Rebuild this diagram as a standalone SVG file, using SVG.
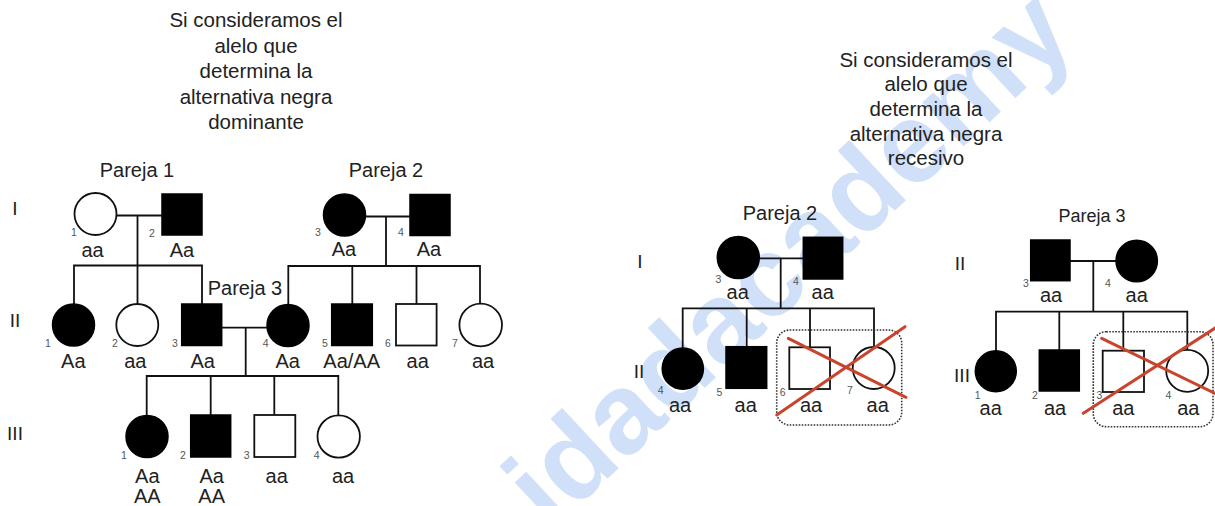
<svg xmlns="http://www.w3.org/2000/svg" width="1215" height="506" viewBox="0 0 1215 506">
<style>
.ln{stroke:#111;stroke-width:1.8;fill:none}
.aff{fill:#000;stroke:#000;stroke-width:1.5}
.opn{fill:#fff;stroke:#111;stroke-width:1.8}
.t{font-family:"Liberation Sans",Arial,Helvetica,sans-serif;fill:#222;text-anchor:middle}
.g{font-size:20px}
.h{font-size:20.5px}
.p{font-size:20px}
.p3{font-size:18px}
.n{font-size:10.5px;fill:#555}
.r{font-size:19px}
.box{fill:none;stroke:#333;stroke-width:1.6;stroke-dasharray:1.6 1.4}
.x{stroke:#c9442d;stroke-width:3;stroke-linecap:round}
.wm{font-family:"Liberation Sans",Arial,sans-serif;font-weight:bold;font-size:114px;fill:#cfe0f8}
</style>
<rect width="1215" height="506" fill="#fff"/>
<text class="wm" transform="translate(550,532) rotate(-43)">idadacademy</text>

<g id="header-left" class="t h">
<text x="256" y="27">Si consideramos el</text>
<text x="256" y="52.5">alelo que</text>
<text x="256" y="78">determina la</text>
<text x="256" y="103.5">alternativa negra</text>
<text x="256" y="129">dominante</text>
</g>
<g id="header-right" class="t h">
<text x="926" y="66.5">Si consideramos el</text>
<text x="926" y="91">alelo que</text>
<text x="926" y="116">determina la</text>
<text x="926" y="140.5">alternativa negra</text>
<text x="926" y="165">recesivo</text>
</g>

<g id="labels" class="t">
<text class="p" x="137" y="177">Pareja 1</text>
<text class="p" x="386" y="177">Pareja 2</text>
<text class="p" x="245" y="295">Pareja 3</text>
<text class="p" x="780" y="220">Pareja 2</text>
<text class="p3" x="1092" y="221.5">Pareja 3</text>
<text class="r" x="15" y="215">I</text>
<text class="r" x="15" y="327">II</text>
<text class="r" x="15" y="440">III</text>
<text class="r" x="640" y="268">I</text>
<text class="r" x="639" y="378">II</text>
<text class="r" x="960" y="270">II</text>
<text class="r" x="962" y="382">III</text>
</g>

<g id="connectors">
<path class="ln" d="M116.5 215.5H162M137.5 215.5V265.5M74 304V265.5H202V304M137.5 265.5V304"/>
<path class="ln" d="M365.5 216.5H410M386 216.5V266M288.3 304V266H480V304M352.3 266V304M416.5 266V304"/>
<path class="ln" d="M221.7 327.7H267M245.7 327.7V376M146.7 416V376H338.3V416M210.7 376V415M274.3 376V415"/>
<path class="ln" d="M759.3 258.3H803M780.7 258.3V308.3M682.7 348V308.3H874V347.3M746.7 308.3V346.7M810 308.3V347.3"/>
<path class="ln" d="M1070 261H1116M1093.3 261V311.7M996 351V311.7H1187.3V350M1059.3 311.7V350M1123.3 311.7V350.7"/>
</g>

<g id="L-I-1"><circle class="opn" cx="95.5" cy="214" r="21"/><text class="t n" x="74" y="236">1</text><text class="t g" x="92.5" y="257">aa</text></g>
<g id="L-I-2"><rect class="aff" x="162" y="194" width="40" height="41"/><text class="t n" x="152" y="237">2</text><text class="t g" x="182" y="257">Aa</text></g>
<g id="L-I-3"><circle class="aff" cx="344.5" cy="215" r="21"/><text class="t n" x="318" y="236">3</text><text class="t g" x="344" y="256">Aa</text></g>
<g id="L-I-4"><rect class="aff" x="410" y="194.5" width="40" height="41"/><text class="t n" x="401" y="236">4</text><text class="t g" x="429" y="256">Aa</text></g>

<g id="L-II-1"><circle class="aff" cx="73.5" cy="325" r="21"/><text class="t n" x="48" y="347">1</text><text class="t g" x="73.3" y="368">Aa</text></g>
<g id="L-II-2"><circle class="opn" cx="137.3" cy="325" r="21"/><text class="t n" x="115" y="347">2</text><text class="t g" x="135.3" y="368">aa</text></g>
<g id="L-II-3"><rect class="aff" x="181.7" y="304" width="40" height="41.5"/><text class="t n" x="175" y="347">3</text><text class="t g" x="202.7" y="368">Aa</text></g>
<g id="L-II-4"><circle class="aff" cx="288" cy="325.5" r="21"/><text class="t n" x="265.7" y="347">4</text><text class="t g" x="287.7" y="368">Aa</text></g>
<g id="L-II-5"><rect class="aff" x="331.7" y="304" width="40.6" height="41.5"/><text class="t n" x="325" y="347">5</text><text class="t g" x="351.7" y="368">Aa/AA</text></g>
<g id="L-II-6"><rect class="opn" x="396" y="304" width="40.6" height="41.5"/><text class="t n" x="388" y="347">6</text><text class="t g" x="417.7" y="368">aa</text></g>
<g id="L-II-7"><circle class="opn" cx="480.7" cy="325" r="21.3"/><text class="t n" x="455" y="347">7</text><text class="t g" x="483" y="368">aa</text></g>

<g id="L-III-1"><circle class="aff" cx="147" cy="436.5" r="21"/><text class="t n" x="124" y="459">1</text><text class="t g" x="147.3" y="483">Aa</text><text class="t g" x="147.3" y="503">AA</text></g>
<g id="L-III-2"><rect class="aff" x="190.7" y="415" width="40" height="42"/><text class="t n" x="183" y="459">2</text><text class="t g" x="211.7" y="483">Aa</text><text class="t g" x="211.7" y="503">AA</text></g>
<g id="L-III-3"><rect class="opn" x="254.3" y="415" width="41" height="42"/><text class="t n" x="246.7" y="459">3</text><text class="t g" x="276.7" y="483">aa</text></g>
<g id="L-III-4"><circle class="opn" cx="338.7" cy="436.5" r="21.2"/><text class="t n" x="316.7" y="459">4</text><text class="t g" x="343" y="483">aa</text></g>

<g id="R-I-3"><circle class="aff" cx="738.3" cy="257.5" r="21"/><text class="t n" x="718.3" y="283">3</text><text class="t g" x="737.7" y="299">aa</text></g>
<g id="R-I-4"><rect class="aff" x="803.3" y="237.3" width="39.4" height="41.7"/><text class="t n" x="796" y="285">4</text><text class="t g" x="822.7" y="299">aa</text></g>
<g id="R-II-4"><circle class="aff" cx="682.8" cy="368.7" r="20.6"/><text class="t n" x="660.7" y="394">4</text><text class="t g" x="680" y="411.5">aa</text></g>
<g id="R-II-5"><rect class="aff" x="726" y="346.7" width="40.7" height="41.6"/><text class="t n" x="719.3" y="395.5">5</text><text class="t g" x="745.7" y="411.5">aa</text></g>
<g id="R-II-6"><rect class="opn" x="789.3" y="347.3" width="40.7" height="41.7"/><text class="t n" x="782.7" y="395.5">6</text><text class="t g" x="811" y="411.5">aa</text></g>
<g id="R-II-7"><circle class="opn" cx="873.7" cy="368" r="21"/><text class="t n" x="850" y="394">7</text><text class="t g" x="877.7" y="411.5">aa</text></g>
<g id="R-discard-1"><rect class="box" x="776.7" y="330" width="125" height="95" rx="13"/><line class="x" x1="776.7" y1="415" x2="905" y2="326.7"/><line class="x" x1="788.3" y1="338.3" x2="906" y2="397.3"/></g>

<g id="R3-II-3"><rect class="aff" x="1030.7" y="240" width="39.3" height="40.7"/><text class="t n" x="1026" y="287">3</text><text class="t g" x="1051" y="301.5">aa</text></g>
<g id="R3-II-4"><circle class="aff" cx="1136.7" cy="261" r="20.7"/><text class="t n" x="1108" y="287">4</text><text class="t g" x="1136.7" y="301.5">aa</text></g>
<g id="R3-III-1"><circle class="aff" cx="995.8" cy="371.3" r="20.5"/><text class="t n" x="977.7" y="399">1</text><text class="t g" x="990.7" y="415">aa</text></g>
<g id="R3-III-2"><rect class="aff" x="1039.3" y="350" width="40" height="41"/><text class="t n" x="1035" y="399">2</text><text class="t g" x="1055" y="415">aa</text></g>
<g id="R3-III-3"><rect class="opn" x="1102.7" y="350.7" width="41.3" height="41.3"/><text class="t n" x="1099.3" y="399">3</text><text class="t g" x="1123.3" y="415">aa</text></g>
<g id="R3-III-4"><circle class="opn" cx="1187.2" cy="370.8" r="21"/><text class="t n" x="1168.3" y="399">4</text><text class="t g" x="1188.3" y="415">aa</text></g>
<g id="R-discard-2"><rect class="box" x="1093.3" y="331.7" width="119.7" height="95" rx="13"/><line class="x" x1="1083.3" y1="413.3" x2="1216" y2="327.5"/><line class="x" x1="1101.7" y1="338.3" x2="1216" y2="393.8"/></g>
</svg>
